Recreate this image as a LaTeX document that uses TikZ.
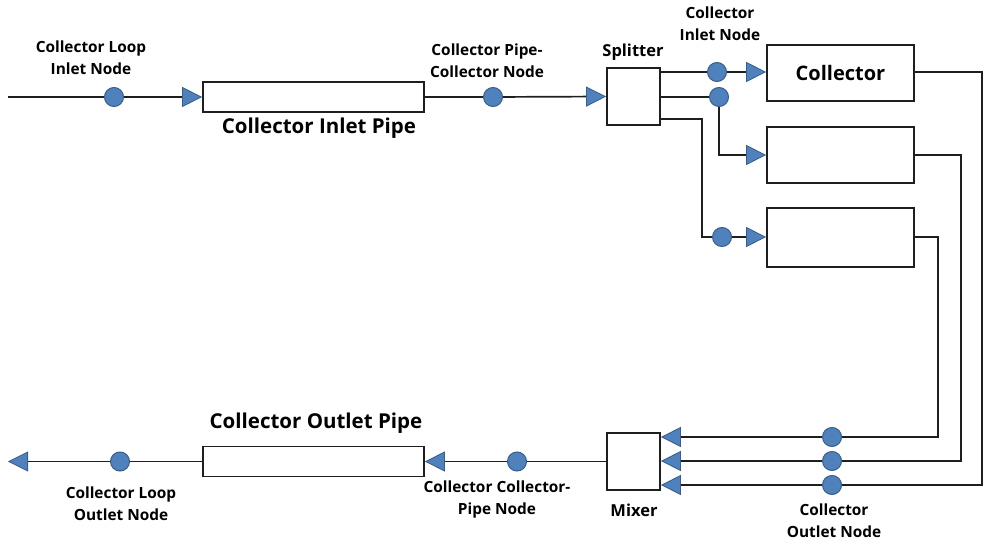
\documentclass[tikz,border=0pt]{standalone}
\usepackage{fontspec}
\setsansfont{Open Sans}
\usepackage{tikz}
\usetikzlibrary{arrows.meta,positioning,backgrounds}
\definecolor{nodeFill}{RGB}{79,129,189}
\definecolor{nodeStroke}{RGB}{56,93,138}
\colorlet{ink}{black!88}
\tikzset{
  pipe/.style={draw=ink, line width=1.7pt},
  flow/.style={draw=ink, line width=1.7pt,
    -{Triangle[length=20pt,width=20pt,line width=0.8pt,fill=nodeFill,color=nodeStroke]}},
  unit/.style={
    draw=ink,
    fill=white,
    line width=1.7pt,
    inner sep=0pt,
    font=\sffamily\bfseries\fontsize{20}{24}\selectfont
  },
  dot/.style={
    circle,
    draw=nodeStroke,
    fill=nodeFill,
    line width=1pt,
    minimum size=19pt,
    inner sep=0pt
  },
  lbl/.style={font=\sffamily\bfseries\fontsize{15.4}{22}\selectfont, text=black, align=center},
  midlbl/.style={font=\sffamily\bfseries\fontsize{16.5}{20}\selectfont, text=black},
  biglbl/.style={font=\sffamily\bfseries\fontsize{20.5}{24}\selectfont, text=black}
}

\begin{document}
\begin{tikzpicture}[x=1pt,y=-1pt]
  \useasboundingbox (0,0) rectangle (985,545);

  \node[unit, minimum width=221pt, minimum height=30pt] (inpipe) at (313.5,97) {};
  \node[unit, minimum width=53pt, minimum height=57pt] (spl) at (633.5,96.5) {};
  \node[unit, minimum width=147pt, minimum height=56pt] (col1) at (840.5,73) {Collector};
  \node[unit, minimum width=147pt, minimum height=56pt] (col2) at (840.5,155) {};
  \node[unit, minimum width=147pt, minimum height=59pt] (col3) at (840.5,237.5) {};
  \node[unit, minimum width=53pt, minimum height=57pt] (mix) at (633.5,461.5) {};
  \node[unit, minimum width=221pt, minimum height=30pt] (outpipe) at (313.5,461.5) {};

  \coordinate (start) at (8,97);
  \coordinate (finish) at (8,461.5);
  \coordinate (b3) at (702,119);
  \coordinate (r1) at (982,485);
  \coordinate (r2) at (961,461);
  \coordinate (r3) at (938,437);

  \node[dot] (lin) at (114,97) {};
  \node[dot] (pcn) at (493,97) {};
  \node[dot] (cin1) at (717,72) {};
  \node[dot] (cin2) at (719,97) {};
  \node[dot] (cin3) at (722,237) {};
  \node[dot] (cout1) at (832,437) {};
  \node[dot] (cout2) at (832,461) {};
  \node[dot] (cout3) at (832,485) {};
  \node[dot] (ccp) at (517,461.5) {};
  \node[dot] (lout) at (120,461.5) {};

  \begin{scope}[on background layer]
  \draw[pipe] (start) -- (lin);
  \draw[flow] (lin) -- (inpipe.west);
  \draw[pipe] (inpipe.east) -- (pcn);
  \draw[flow] (pcn) -- (spl.west);

  \draw[pipe] (spl.east |- cin1) -- (cin1);
  \draw[flow] (cin1) -- (col1.west |- cin1);
  \draw[pipe] (spl.east |- cin2) -- (cin2);
  \draw[flow] (cin2) |- (col2.west);
  \draw[pipe] (spl.east |- b3) -- (b3) |- (cin3);
  \draw[flow] (cin3) -- (col3.west |- cin3);

  \draw[pipe] (col1.east |- cin1) -| (r1) -- (cout3);
  \draw[pipe] (col2.east) -| (r2) -- (cout2);
  \draw[pipe] (col3.east |- cin3) -| (r3) -- (cout1);
  \draw[flow] (cout1) -- (mix.east |- cout1);
  \draw[flow] (cout2) -- (mix.east |- cout2);
  \draw[flow] (cout3) -- (mix.east |- cout3);

  \draw[pipe] (mix.west) -- (ccp);
  \draw[flow] (ccp) -- (outpipe.east);
  \draw[pipe] (outpipe.west) -- (lout);
  \draw[flow] (lout) -- (finish);
  \end{scope}

  \node[lbl] (tLoopIn) at (91,58) {Collector Loop\\Inlet Node};
  \node[lbl] (tPipeCol) at (487,61) {Collector Pipe-\\Collector Node};
  \node[lbl] (tColIn) at (720,24) {Collector\\Inlet Node};
  \node[midlbl] (tSplit) at (633,52) {Splitter};
  \node[biglbl] (tInPipe) at (319,128) {Collector Inlet Pipe};
  \node[biglbl] (tOutPipe) at (316,423) {Collector Outlet Pipe};
  \node[midlbl] (tMix) at (634,510) {Mixer};
  \node[lbl] (tColOut) at (834,521) {Collector\\Outlet Node};
  \node[lbl] (tColPipe) at (497,499) {Collector Collector-\\Pipe Node};
  \node[lbl] (tLoopOut) at (121,504) {Collector Loop\\Outlet Node};
\end{tikzpicture}
\end{document}
